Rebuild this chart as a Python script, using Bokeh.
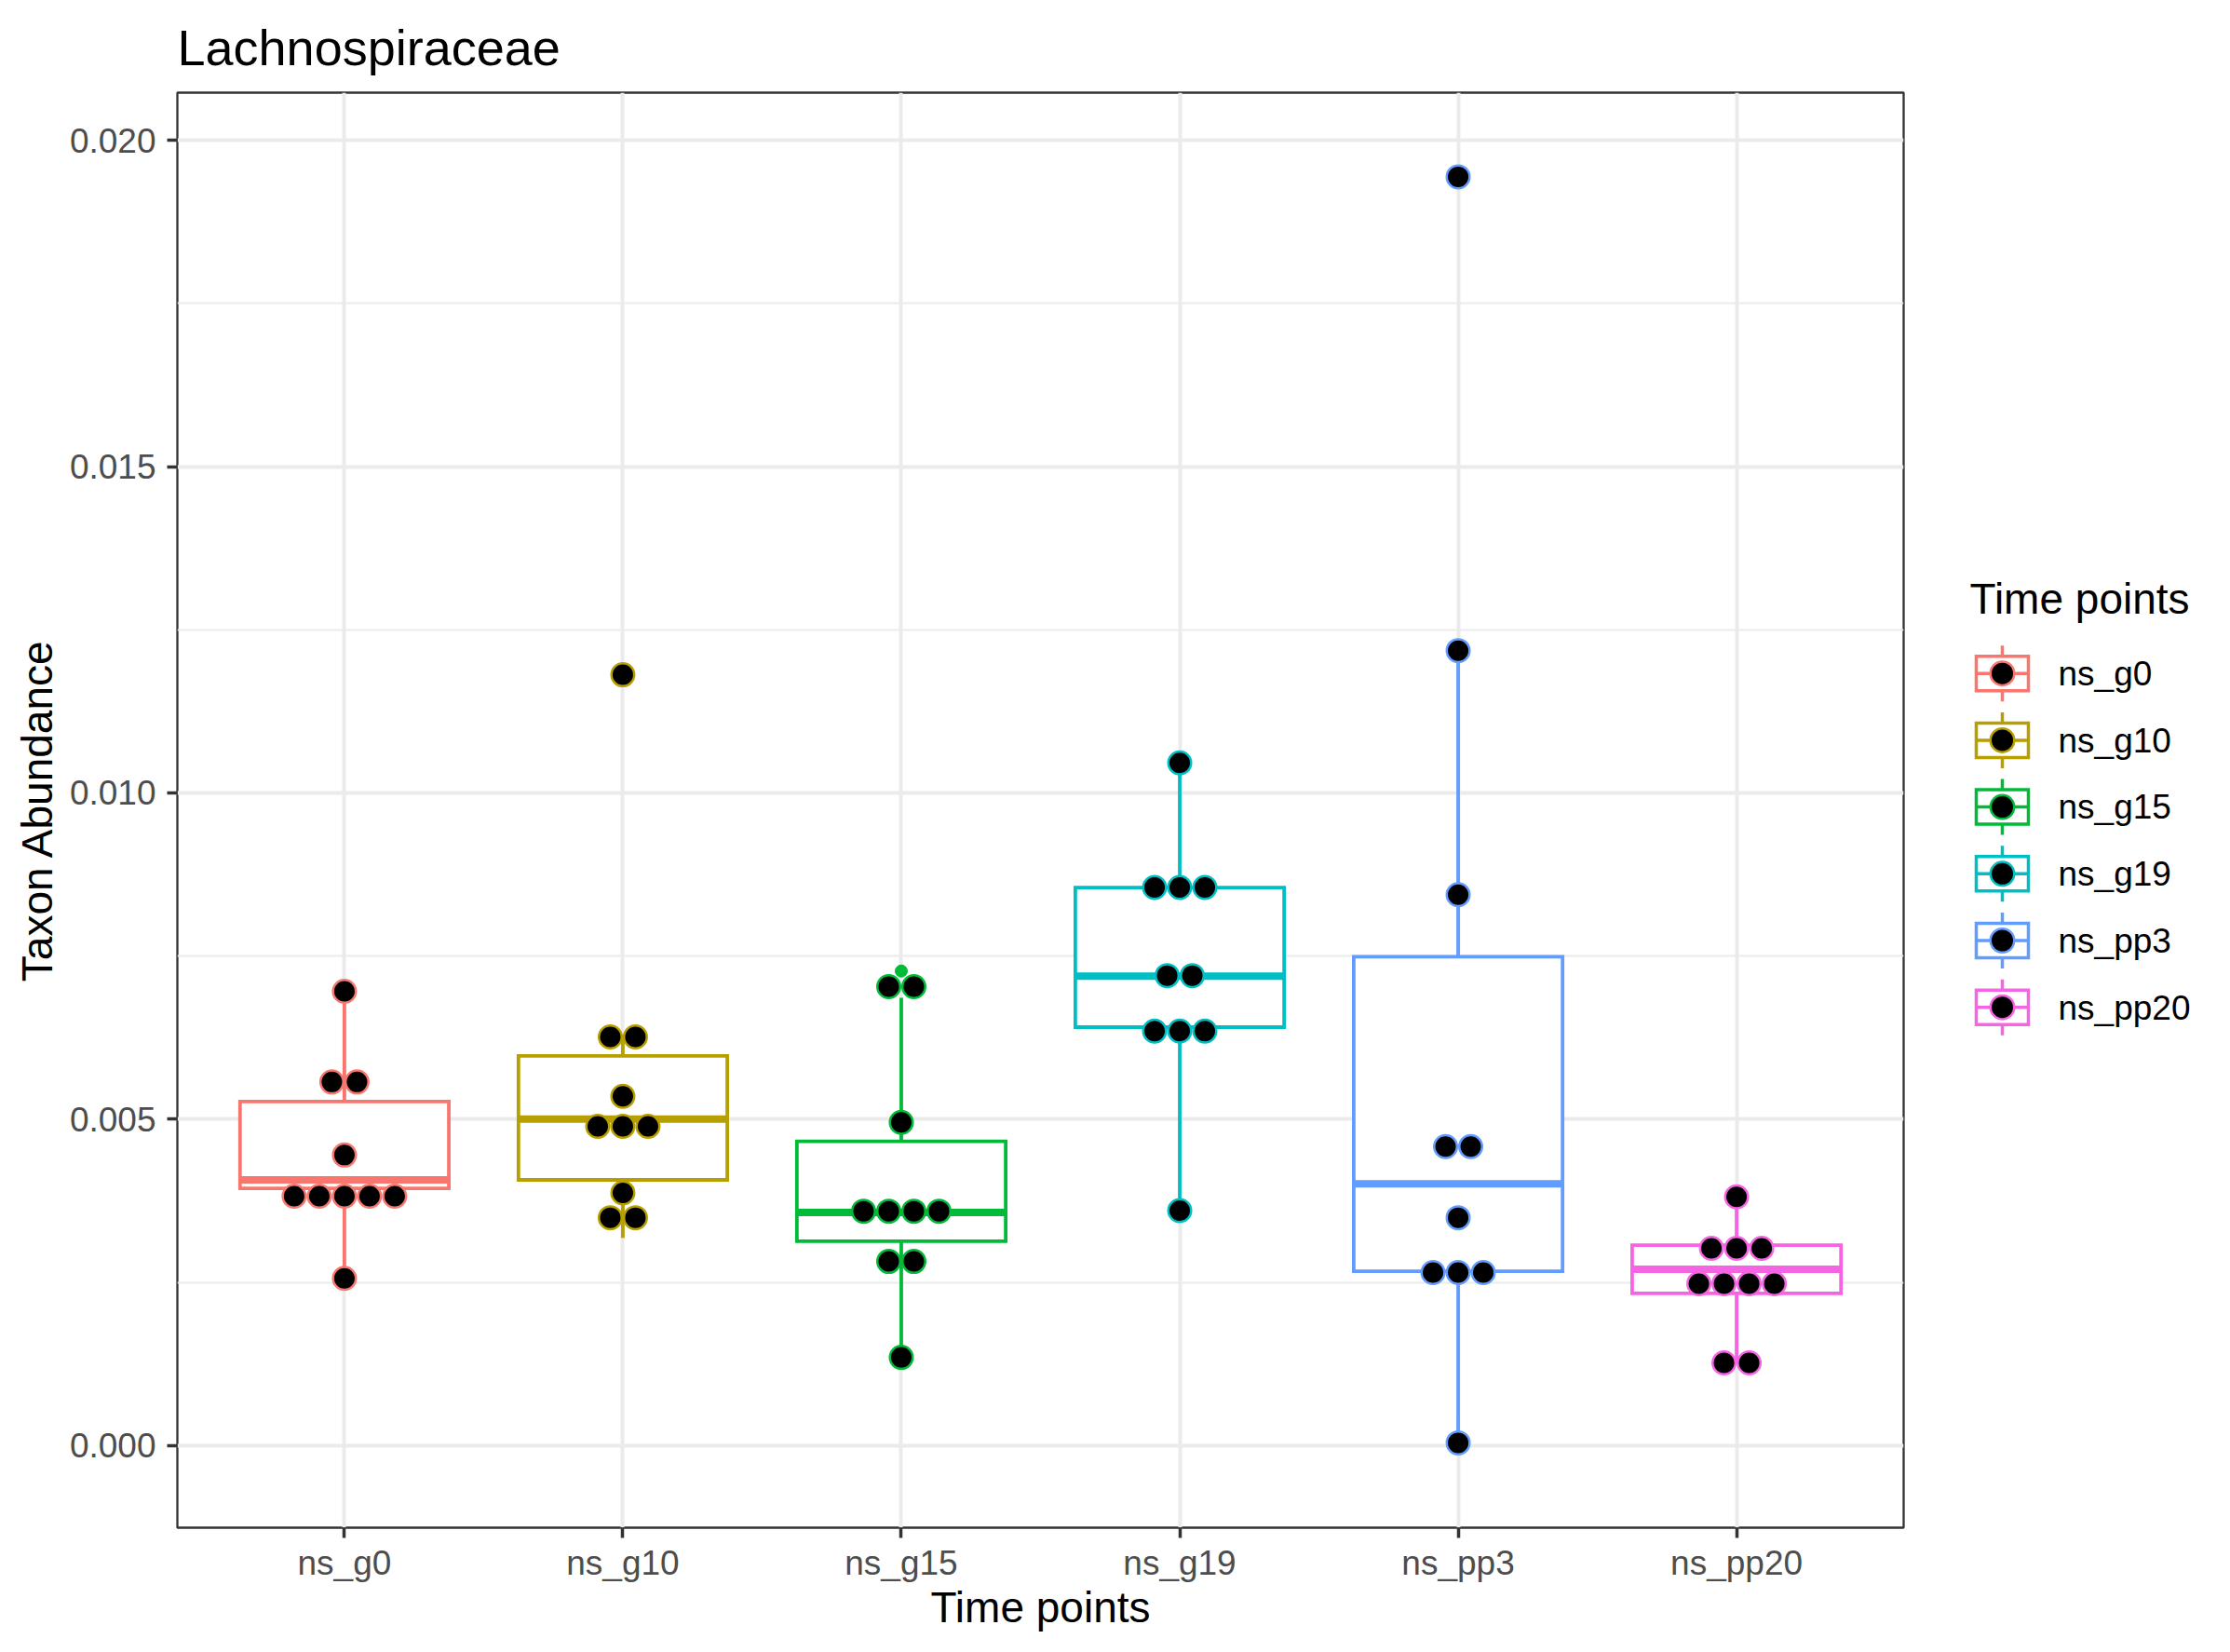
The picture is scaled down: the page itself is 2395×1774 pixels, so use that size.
from bokeh.plotting import figure
from bokeh.models import Range1d, FixedTicker, PrintfTickFormatter
from bokeh.layouts import row
from bokeh.embed import file_html
from bokeh.resources import INLINE
from bokeh.core.properties import value

# ---------------- data ----------------
categories = ["ns_g0", "ns_g10", "ns_g15", "ns_g19", "ns_pp3", "ns_pp20"]
colors = ["#F8766D", "#B79F00", "#00BA38", "#00BFC4", "#619CFF", "#F564E3"]

box_q1 = [0.00394, 0.00407, 0.00313, 0.00641, 0.00267, 0.00233]
box_median = [0.00407, 0.00500, 0.00357, 0.00719, 0.00401, 0.00270]
box_q3 = [0.00527, 0.00597, 0.00466, 0.00855, 0.00749, 0.00307]
whisker_low = [0.00256, 0.00318, 0.00135, 0.00360, 0.00004, 0.00126]
whisker_high = [0.00696, 0.00630, 0.00686, 0.01046, 0.01218, 0.00381]

outlier_group = [1, 2, 4]
outlier_value = [0.01181, 0.00727, 0.01944]

# dot-plot bins: group index, bin centre value, number of stacked dots
dot_group = [0, 0, 0, 0, 0,
             1, 1, 1, 1, 1, 1,
             2, 2, 2, 2, 2,
             3, 3, 3, 3, 3,
             4, 4, 4, 4, 4, 4, 4,
             5, 5, 5, 5]
dot_value = [0.00256, 0.00382, 0.00445, 0.00557, 0.00696,
             0.00349, 0.00387, 0.00489, 0.00535, 0.00626, 0.01181,
             0.00135, 0.00282, 0.00359, 0.00495, 0.00703,
             0.00360, 0.00635, 0.00720, 0.00855, 0.01046,
             0.00004, 0.00265, 0.00349, 0.00458, 0.00844, 0.01218, 0.01944,
             0.001265, 0.00248, 0.00302, 0.00381]
dot_count = [1, 5, 1, 2, 1,
             2, 1, 3, 1, 2, 1,
             1, 2, 4, 1, 2,
             1, 3, 2, 3, 1,
             1, 3, 1, 2, 1, 1, 1,
             2, 4, 3, 1]

y_ticks = [0.000, 0.005, 0.010, 0.015, 0.020]
y_minor = [0.0025, 0.0075, 0.0125, 0.0175]

# ---------------- layout / style constants ----------------
FONT = "Liberation Sans"
FRAME_W, FRAME_H = 1854, 1541
BORDER_L, BORDER_R, BORDER_T, BORDER_B = 190, 20, 98, 115
X0, X1 = 0.4, 6.6
Y0, Y1 = -0.00126, 0.02073
BOX_W = 0.75
DOT_PX = 27
LINE_W = 3.8

p = figure(frame_width=FRAME_W, frame_height=FRAME_H,
           x_range=Range1d(X0, X1), y_range=Range1d(Y0, Y1),
           output_backend="svg", toolbar_location=None,
           min_border_left=BORDER_L, min_border_right=BORDER_R,
           min_border_top=BORDER_T, min_border_bottom=BORDER_B)

p.title.text = "Lachnospiraceae"
p.title.text_font = FONT
p.title.text_font_size = "54px"
p.title.text_font_style = "normal"
p.title.text_color = "black"
p.title.align = "left"
p.title.standoff = 37
p.title.offset = 0

xs = [i + 1 for i in range(len(categories))]

xt = FixedTicker(ticks=xs)
p.xaxis.ticker = xt
p.xgrid.ticker = xt
p.xaxis.major_label_overrides = {x: c for x, c in zip(xs, categories)}
yt = FixedTicker(ticks=y_ticks, minor_ticks=y_minor)
p.yaxis.ticker = yt
p.ygrid.ticker = yt
p.yaxis.formatter = PrintfTickFormatter(format="%.3f")

for g in (p.xgrid, p.ygrid):
    g.grid_line_color = "#EBEBEB"
    g.grid_line_width = 4
p.ygrid.minor_grid_line_color = "#EBEBEB"
p.ygrid.minor_grid_line_width = 2

for ax in (p.xaxis, p.yaxis):
    ax.axis_line_color = None
    ax.major_tick_line_color = "#333333"
    ax.major_tick_line_width = 3.5
    ax.major_tick_out = 11
    ax.major_tick_in = 0
    ax.minor_tick_line_color = None
    ax.major_label_text_font = FONT
    ax.major_label_text_font_size = "37px"
    ax.major_label_text_color = "#4D4D4D"
    ax.axis_label_text_font = FONT
    ax.axis_label_text_font_size = "46px"
    ax.axis_label_text_font_style = "normal"
    ax.axis_label_text_color = "black"

p.xaxis.axis_label = "Time points"
p.xaxis.major_label_standoff = 6
p.xaxis.axis_label_standoff = -2
p.yaxis.axis_label = "Taxon Abundance"
p.yaxis.major_label_standoff = 12
p.yaxis.axis_label_standoff = 6

p.outline_line_color = "#333333"
p.outline_line_width = 2.3
p.background_fill_color = "white"

# ---------------- boxplots ----------------
p.segment(x0=xs, y0=box_q3, x1=xs, y1=whisker_high, line_color=colors, line_width=LINE_W)
p.segment(x0=xs, y0=whisker_low, x1=xs, y1=box_q1, line_color=colors, line_width=LINE_W)
p.quad(left=[x - BOX_W / 2 for x in xs], right=[x + BOX_W / 2 for x in xs],
       bottom=box_q1, top=box_q3, fill_color="white", line_color=colors,
       line_width=LINE_W, line_join="miter")
p.segment(x0=[x - BOX_W / 2 for x in xs], y0=box_median,
          x1=[x + BOX_W / 2 for x in xs], y1=box_median,
          line_color=colors, line_width=8, line_cap="butt")
p.scatter(x=[xs[g] for g in outlier_group], y=outlier_value, size=13,
          fill_color=[colors[g] for g in outlier_group],
          line_color=[colors[g] for g in outlier_group])

# ---------------- dot plot (stacked, centred) ----------------
step = DOT_PX * (X1 - X0) / FRAME_W
dx, dy, dc = [], [], []
for g, v, n in zip(dot_group, dot_value, dot_count):
    for k in range(n):
        dx.append(xs[g] + (k - (n - 1) / 2) * step)
        dy.append(v)
        dc.append(colors[g])
p.scatter(x=dx, y=dy, size=DOT_PX - 2.5, fill_color="black",
          line_color=dc, line_width=2.5)

# ---------------- legend (separate panel, frame aligned with main frame) ----------------
LEG_W = 320
leg = figure(frame_width=LEG_W, frame_height=FRAME_H,
             x_range=Range1d(0, LEG_W), y_range=Range1d(FRAME_H, 0),
             output_backend="svg", toolbar_location=None,
             min_border_left=0, min_border_right=0,
             min_border_top=BORDER_T, min_border_bottom=BORDER_B)
leg.axis.visible = False
leg.grid.visible = False
leg.outline_line_color = None

leg.text(x=[51], y=[543], text=["Time points"], text_font=value(FONT),
         text_font_size="46px", text_color="black", text_baseline="alphabetic")

kx = 86
kc = [623.7 + i * 71.7 for i in range(len(categories))]
leg.segment(x0=[kx] * 6, y0=[c - 30 for c in kc], x1=[kx] * 6, y1=[c + 30 for c in kc],
            line_color=colors, line_width=3.5)
leg.quad(left=[kx - 28] * 6, right=[kx + 28] * 6, top=[c - 18.5 for c in kc],
         bottom=[c + 18.5 for c in kc], fill_color="white", line_color=colors,
         line_width=3.5, line_join="miter")
leg.segment(x0=[kx - 28] * 6, y0=kc, x1=[kx + 28] * 6, y1=kc,
            line_color=colors, line_width=3.5)
leg.scatter(x=[kx] * 6, y=kc, size=25.5, fill_color="black", line_color=colors,
            line_width=2.5)
leg.text(x=[146] * 6, y=[c + 0.3 for c in kc], text=categories, text_font=value(FONT),
         text_font_size="37px", text_color="black", text_baseline="alphabetic")

layout = row(p, leg)
open("out.html", "w").write(file_html(layout, INLINE))
